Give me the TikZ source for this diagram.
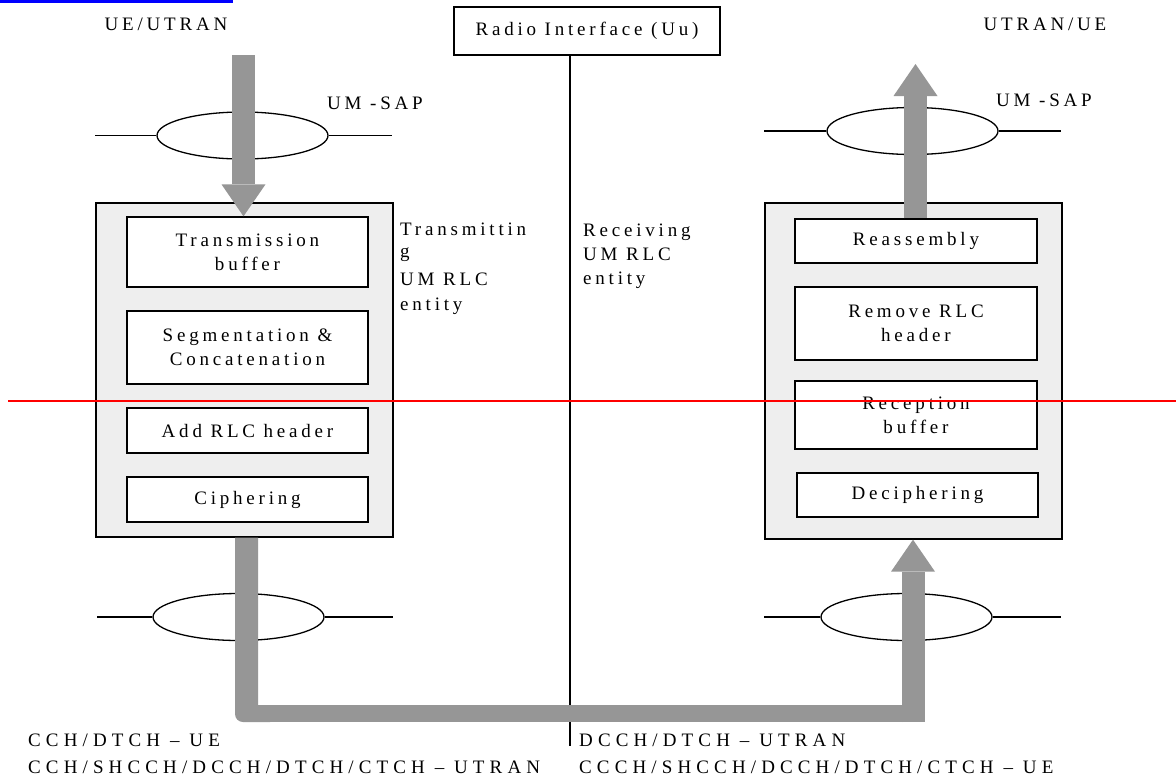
\documentclass[tikz,border=0pt]{standalone}
\usepackage{fontspec}
\setmainfont{Liberation Serif}[LetterSpace=20]
\usetikzlibrary{shapes.geometric,arrows.meta}
\definecolor{bandgray}{RGB}{150,150,150}
\definecolor{boxfill}{RGB}{238,238,238}
\definecolor{linkblue}{RGB}{0,0,255}
\begin{document}
\begin{tikzpicture}[x=1pt,y=-1pt,
  txt/.style={font=\fontsize{19}{24}\selectfont, inner sep=0pt},
  widetxt/.style={font=\fontsize{19}{24}\selectfont\addfontfeatures{LetterSpace=27}, inner sep=0pt},
  proc/.style={draw, line width=1.3pt, fill=white, txt, align=center},
  entitybox/.style={draw, line width=1.3pt, fill=boxfill, inner sep=0pt},
  sap/.style={draw, ellipse, line width=1.3pt, fill=white, minimum width=171pt, minimum height=47pt, inner sep=0pt},
  sapline/.style={line width=1.3pt},
  band/.style={draw=bandgray, line width=23pt},
  bandtip/.style={-{Triangle[length=32pt,width=44pt,line width=0pt]}}
]
\fill[white] (0,0) rectangle (1176,780);
\useasboundingbox (0,0) rectangle (1176,780);

% hyperlink remnant at top
\fill[linkblue] (0,0) rectangle (233,2.5);

% headings
\node[txt] (ueutran) at (166,24) {UE/UTRAN};
\node[txt] (utranue) at (1045,24) {UTRAN/UE};
\node[draw, line width=1.3pt, minimum width=266pt, minimum height=48pt, txt] (radio) at (587,31) {Radio Interface (Uu)};
\coordinate (vbot) at (570,746);
\draw[line width=1.3pt] (radio.south -| vbot) -- (vbot);

% entity boxes
\node[entitybox, minimum width=297pt, minimum height=334pt] (outerL) at (244.5,370) {};
\node[entitybox, minimum width=297pt, minimum height=336pt] (outerR) at (913.5,371) {};

\node[proc, minimum width=241pt, minimum height=70pt] (tb) at (247.5,252) {Transmission\\buffer};
\node[proc, minimum width=241pt, minimum height=73pt] (seg) at (247.5,347.5) {Segmentation \&\\Concatenation};
\node[proc, minimum width=241pt, minimum height=45pt] (add) at (247.5,430.5) {Add RLC header};
\node[proc, minimum width=241pt, minimum height=45pt] (ciph) at (247.5,499.5) {Ciphering};

\node[proc, minimum width=242pt, minimum height=44pt] (reas) at (916,241) {Reassembly};
\node[proc, minimum width=242pt, minimum height=73pt] (rem) at (916,323.5) {Remove RLC\\header};
\node[proc, minimum width=242pt, minimum height=68pt] (recp) at (916,415) {Reception\\buffer};
\node[proc, minimum width=241pt, minimum height=44pt] (deci) at (917.5,495) {Deciphering};

% entity labels
\node[txt, align=left, anchor=north west] (txlab) at (400,223) {Transmittin\\[-2pt]g\\[4pt]UM RLC\\[1pt]entity};
\node[txt, align=left, anchor=north west] (rxlab) at (583,224) {Receiving\\UM RLC\\entity};

% SAP ellipses and lines
\node[sap] (sapL) at (242.5,135.5) {};
\coordinate (sapLa) at (95,135.5); \coordinate (sapLb) at (392,135.5);
\draw[sapline] (sapLa) -- (sapL.west); \draw[sapline] (sapL.east) -- (sapLb);
\node[txt, anchor=west] (umsapL) at (327,103) {UM -SAP};

\node[sap] (sapR) at (912.5,131) {};
\coordinate (sapRa) at (764,131); \coordinate (sapRb) at (1061,131);
\draw[sapline] (sapRa) -- (sapR.west); \draw[sapline] (sapR.east) -- (sapRb);
\node[txt, anchor=west] (umsapR) at (996,100) {UM -SAP};

\node[sap] (sapBL) at (238.5,617) {};
\coordinate (sapBLa) at (97,617); \coordinate (sapBLb) at (393,617);
\draw[sapline] (sapBLa) -- (sapBL.west); \draw[sapline] (sapBL.east) -- (sapBLb);

\node[sap] (sapBR) at (906.5,617) {};
\coordinate (sapBRa) at (764,617); \coordinate (sapBRb) at (1061,617);
\draw[sapline] (sapBRa) -- (sapBR.west); \draw[sapline] (sapBR.east) -- (sapBRb);

% gray data-flow arrows
\coordinate (inL) at (243.5,55);
\draw[band, bandtip] (inL) -- (tb.north -| inL);

\coordinate (outR) at (915.5,64);
\draw[band, bandtip] (reas.north -| outR) -- (outR);

% bottom U-shaped band from transmitting to receiving entity
\fill[bandgray] (outerL.south -| 235,0) -- (235,714) arc[start angle=180, end angle=90, radius=8] -- (270,722) -- (270,705) -- (258,705) -- (outerL.south -| 258,0) -- cycle;
\coordinate (hl) at (265,713.5);
\coordinate (hr) at (924.5,713.5);
\coordinate (br) at (913,722);
\draw[band, line width=17pt] (hl) -- (hr);
\draw[band, bandtip] (br) -- (outerR.south -| br);

% red line
\coordinate (rl) at (8,401); \coordinate (rr) at (1176,401);
\draw[red, line width=1.3pt] (rl) -- (rr);

% bottom channel labels
\node[widetxt, anchor=base west] (chl1) at (28,746) {CCH/DTCH – UE};
\node[widetxt, anchor=base west] (chl2) at (28,773) {CCH/SHCCH/DCCH/DTCH/CTCH – UTRAN};
\node[widetxt, anchor=base west] (chr1) at (579,746) {DCCH/DTCH – UTRAN};
\node[widetxt, anchor=base west] (chr2) at (579,773) {CCCH/SHCCH/DCCH/DTCH/CTCH – UE};
\end{tikzpicture}
\end{document}
